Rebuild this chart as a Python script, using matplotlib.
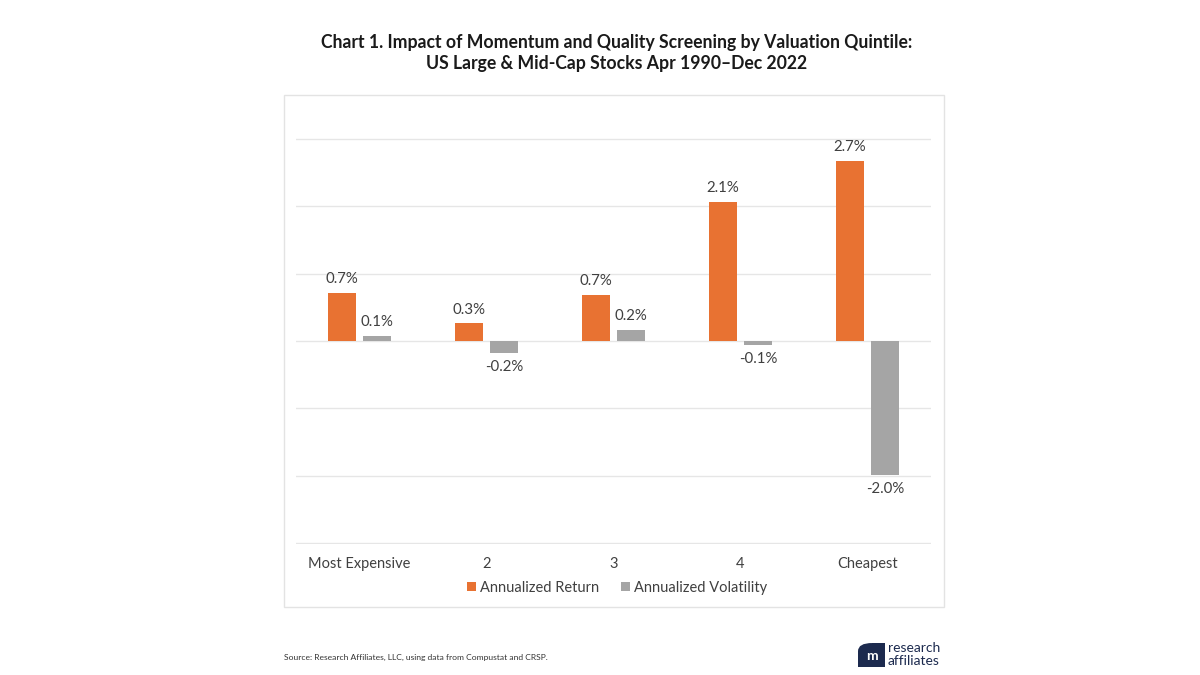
import matplotlib
matplotlib.use("Agg")
import matplotlib.pyplot as plt
import numpy as np
from matplotlib.patches import Rectangle, FancyBboxPatch

categories = ["Most Expensive", "2", "3", "4", "Cheapest"]
series_names = ["Annualized Return", "Annualized Volatility"]
annual_return = [0.71, 0.26, 0.68, 2.06, 2.68]
annual_vol = [0.07, -0.18, 0.16, -0.06, -1.99]
y_ticks = [-3, -2, -1, 0, 1, 2, 3]

title = ("Chart 1. Impact of Momentum and Quality Screening by Valuation Quintile:\n"
         "US Large & Mid-Cap Stocks Apr 1990\u2013Dec 2022")
source = "Source: Research Affiliates, LLC, using data from Compustat and CRSP."

ORANGE = "#E87232"
GREY = "#A5A5A5"
TXT = "#404040"

plt.rcParams['font.family'] = ['Lato', 'DejaVu Sans']

fig = plt.figure(figsize=(12, 6.75), dpi=100)
fig.patch.set_facecolor("white")

# chart frame
fig.patches.append(Rectangle((284/1200, 1-607/675), 660/1200, 512/675,
                             transform=fig.transFigure, fill=False,
                             edgecolor="#e3e3e3", linewidth=1.0, zorder=0))

ax = fig.add_axes([296/1200, 1-544/675, 635/1200, 406/675])
x = np.arange(len(categories))
w = 0.22
off = 0.138
b1 = ax.bar(x - off, annual_return, width=w, color=ORANGE, zorder=3, label=series_names[0])
b2 = ax.bar(x + off, annual_vol, width=w, color=GREY, zorder=3, label=series_names[1])

ax.set_xlim(-0.5, len(categories) - 0.5)
ax.set_ylim(min(y_ticks) - 0.015, max(y_ticks) + 0.015)
ax.set_yticks(y_ticks)
ax.yaxis.grid(True, color="#e6e6e6", linewidth=1.0, zorder=0)
ax.tick_params(axis="y", left=False, labelleft=False)
ax.tick_params(axis="x", bottom=False, labelsize=10.5, labelcolor=TXT, pad=6)
ax.set_xticks(x)
ax.set_xticklabels(categories)
for s in ax.spines.values():
    s.set_visible(False)

for bars, vals in ((b1, annual_return), (b2, annual_vol)):
    for rect, v in zip(bars, vals):
        cx = rect.get_x() + rect.get_width() / 2
        if v >= 0:
            ax.annotate(f"{v:.1f}%", (cx, v), xytext=(0, 5), textcoords="offset points",
                        ha="center", va="bottom", fontsize=10.8, color=TXT)
        else:
            ax.annotate(f"{v:.1f}%", (cx, v), xytext=(0, -5), textcoords="offset points",
                        ha="center", va="top", fontsize=10.8, color=TXT)

leg = fig.legend(handles=[b1, b2], labels=series_names, loc="center",
                 bbox_to_anchor=(617/1200, 1-588/675), ncol=2, frameon=False,
                 fontsize=10.5, handlelength=0.6, handleheight=0.6, handletextpad=0.3,
                 columnspacing=1.5)
for t in leg.get_texts():
    t.set_color(TXT)

fig.text(617/1200, 1-53/675, title, ha="center", va="center", fontsize=12.7,
         fontweight="bold", color="#1a1a1a", linespacing=1.3)

fig.text(284/1200, 1-657/675, source, ha="left", va="center", fontsize=6.1, color="#333333")

# logo
NAVY = "#1c2a4e"
fig.patches.append(FancyBboxPatch((858/1200, 1-667/675), 27/1200, 24/675,
                                  boxstyle="round,pad=0,rounding_size=0.012",
                                  transform=fig.transFigure, facecolor=NAVY,
                                  edgecolor="none"))
fig.patches.append(Rectangle((872/1200, 1-667/675), 13/1200, 24/675,
                             transform=fig.transFigure, facecolor=NAVY, edgecolor="none"))
fig.patches.append(Rectangle((858/1200, 1-667/675), 27/1200, 10/675,
                             transform=fig.transFigure, facecolor=NAVY, edgecolor="none"))
fig.text(871.5/1200, 1-656/675, "m", ha="center", va="center", fontsize=10,
         fontweight="bold", color="white")
fig.text(888/1200, 1-648/675, "research", ha="left", va="center", fontsize=10, color=NAVY)
fig.text(888/1200, 1-661/675, "affiliates", ha="left", va="center", fontsize=10, color=NAVY)

fig.savefig("out.png", dpi=100, facecolor="white")
